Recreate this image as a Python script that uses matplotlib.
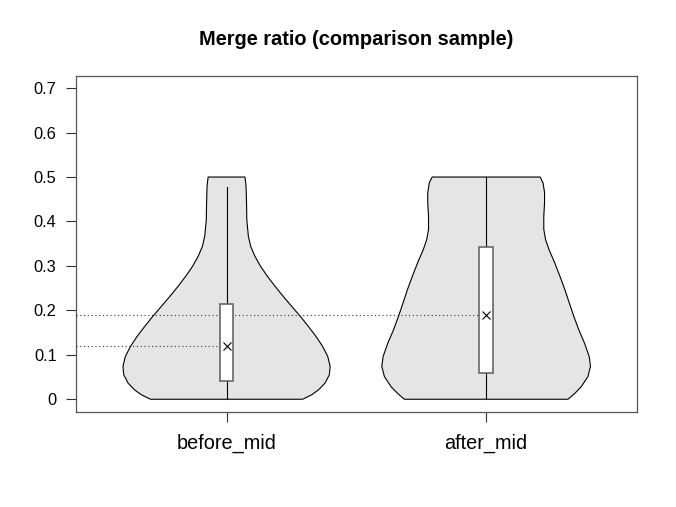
import matplotlib.pyplot as plt
import numpy as np

plt.rcParams['font.family'] = ['Liberation Sans', 'DejaVu Sans']

# groups and summary values
groups = ['before_mid', 'after_mid']
means = [0.119, 0.189]
q1 = [0.041, 0.060]
q3 = [0.215, 0.343]
whisk_lo = [0.0, 0.0]
whisk_hi = [0.478, 0.5]

# violin outlines: y level and half width (x units)
before_y = [0.0, 0.010, 0.021, 0.036, 0.055, 0.074, 0.096, 0.119, 0.141, 0.164, 0.186,
            0.209, 0.231, 0.254, 0.277, 0.299, 0.322, 0.344, 0.367, 0.404, 0.442, 0.480, 0.5]
before_w = [0.293, 0.328, 0.354, 0.379, 0.396, 0.399, 0.390, 0.370, 0.345, 0.315, 0.285,
            0.251, 0.219, 0.187, 0.157, 0.131, 0.109, 0.093, 0.084, 0.078, 0.077, 0.075, 0.071]
after_y = [0.0, 0.013, 0.028, 0.051, 0.074, 0.096, 0.126, 0.156, 0.186, 0.217, 0.247,
           0.277, 0.307, 0.337, 0.359, 0.382, 0.412, 0.442, 0.465, 0.487, 0.5]
after_w = [0.315, 0.341, 0.366, 0.392, 0.402, 0.397, 0.379, 0.357, 0.338, 0.320, 0.303,
           0.284, 0.264, 0.242, 0.229, 0.222, 0.222, 0.225, 0.225, 0.219, 0.208]

profiles = [(before_y, before_w), (after_y, after_w)]

fig = plt.figure(figsize=(6.76, 5.07), dpi=100)
ax = fig.add_axes([0.1124, 0.188, 0.8295, 0.6627])

for i, (yy, ww) in enumerate(profiles):
    c = i + 1
    yy = np.array(yy)
    ww = np.array(ww)
    xs = np.concatenate([c - ww, (c + ww)[::-1]])
    ys = np.concatenate([yy, yy[::-1]])
    ax.fill(xs, ys, facecolor='#e5e5e5', edgecolor='black', lw=0.8, zorder=2)
    # whisker
    ax.plot([c, c], [whisk_lo[i], whisk_hi[i]], color='black', lw=0.8, zorder=3)
    # box
    bw = 0.026
    ax.add_patch(plt.Rectangle((c - bw, q1[i]), 2 * bw, q3[i] - q1[i], facecolor='white',
                               edgecolor='#666666', lw=1.2, zorder=4))
    # mean marker + dotted guide
    ax.plot([c], [means[i]], marker='x', color='black', ms=6, mew=0.8, zorder=5)
    ax.plot([0.42, c], [means[i], means[i]], color='#333333', lw=0.8,
            linestyle=(0, (1, 2.4)), zorder=3)

ax.set_xlim(0.42, 2.58)
ax.set_ylim(-0.028, 0.728)
ax.set_xticks([1, 2])
ax.set_xticklabels(groups, fontsize=14.3)
ax.set_yticks([0, 0.1, 0.2, 0.3, 0.4, 0.5, 0.6, 0.7])
ax.set_yticklabels(['0', '0.1', '0.2', '0.3', '0.4', '0.5', '0.6', '0.7'], fontsize=11.8)
ax.tick_params(axis='both', length=7, width=0.8, color='#333333')
ax.tick_params(axis='y', pad=7)
ax.tick_params(axis='x', pad=9)
for s in ax.spines.values():
    s.set_linewidth(0.9)
    s.set_color('#555555')

fig.text(0.5265, 0.911, 'Merge ratio (comparison sample)', ha='center', va='baseline',
         fontsize=14.4, fontweight='bold')

plt.savefig('out.png', dpi=100)
